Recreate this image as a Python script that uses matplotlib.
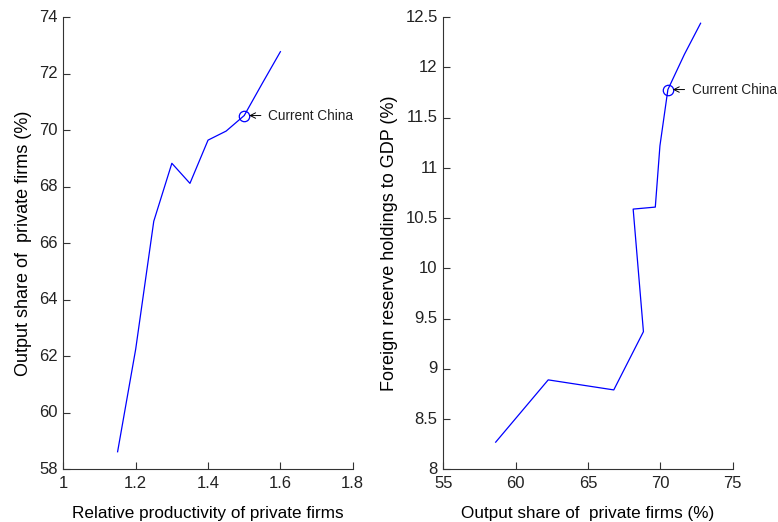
import matplotlib
matplotlib.use("Agg")
import matplotlib.pyplot as plt
import matplotlib.transforms as mtransforms

# Simulated economy: productivity -> private output share -> reserves
productivity = [1.15, 1.20, 1.25, 1.30, 1.35, 1.40, 1.45, 1.50, 1.55, 1.60]
output_share = [58.62, 62.25, 66.78, 68.83, 68.12, 69.65, 69.97, 70.52, 71.66, 72.78]
reserves_gdp = [8.27, 8.89, 8.79, 9.37, 10.59, 10.61, 11.22, 11.78, 12.13, 12.44]

current_idx = 7  # 1.5 relative productivity = current China

plt.rcParams['font.family'] = ['Liberation Sans', 'DejaVu Sans']
plt.rcParams['font.size'] = 12

fig = plt.figure(figsize=(7.78, 5.22), dpi=100)
ax1 = fig.add_axes([0.0814, 0.101, 0.372, 0.866])
ax2 = fig.add_axes([0.5698, 0.101, 0.372, 0.866])


def style_axes(ax):
    for side in ['top', 'right']:
        ax.spines[side].set_visible(False)
    for side in ['left', 'bottom']:
        ax.spines[side].set_color('#333333')
        ax.spines[side].set_linewidth(0.8)
    ax.tick_params(direction='in', length=5, width=0.8, color='#333333',
                   labelsize=12, labelcolor='#222222')
    ax.tick_params(axis='x', pad=4.5)
    ax.tick_params(axis='y', pad=4)
    # nudge y tick labels up a touch so the corner labels don't collide
    lift = mtransforms.ScaledTranslation(0, 1 / 72, fig.dpi_scale_trans)
    for lbl in ax.get_yticklabels():
        lbl.set_transform(lbl.get_transform() + lift)


def mark_current(ax, x, y):
    ax.plot(x, y, 'o', mfc='none', mec='blue', ms=7.5, mew=0.9)
    ax.annotate('Current China', xy=(x, y), xytext=(17, 0),
                textcoords='offset points', va='center', ha='left',
                fontsize=9.8, color='#222222', annotation_clip=False,
                arrowprops=dict(arrowstyle='->', color='black', lw=0.7,
                                shrinkA=3, shrinkB=3.5))


ax1.plot(productivity, output_share, color='blue', lw=0.9)
mark_current(ax1, productivity[current_idx], output_share[current_idx])
ax1.set_xlim(1, 1.8)
ax1.set_ylim(58, 74)
ax1.set_xticks([1, 1.2, 1.4, 1.6, 1.8])
ax1.set_xticklabels(['1', '1.2', '1.4', '1.6', '1.8'])
ax1.set_yticks(range(58, 75, 2))
ax1.set_xlabel('Relative productivity of private firms', fontsize=12.3, labelpad=11)
ax1.set_ylabel('Output share of  private firms (%)', fontsize=13, labelpad=5)
style_axes(ax1)

ax2.plot(output_share, reserves_gdp, color='blue', lw=0.9)
mark_current(ax2, output_share[current_idx], reserves_gdp[current_idx])
ax2.set_xlim(55, 75)
ax2.set_ylim(8, 12.5)
ax2.set_xticks([55, 60, 65, 70, 75])
ax2.set_yticks([8, 8.5, 9, 9.5, 10, 10.5, 11, 11.5, 12, 12.5])
ax2.set_yticklabels(['8', '8.5', '9', '9.5', '10', '10.5', '11', '11.5', '12', '12.5'])
ax2.set_xlabel('Output share of  private firms (%)', fontsize=12.3, labelpad=11)
ax2.set_ylabel('Foreign reserve holdings to GDP (%)', fontsize=13, labelpad=5)
style_axes(ax2)

fig.savefig('out.png', dpi=100)
